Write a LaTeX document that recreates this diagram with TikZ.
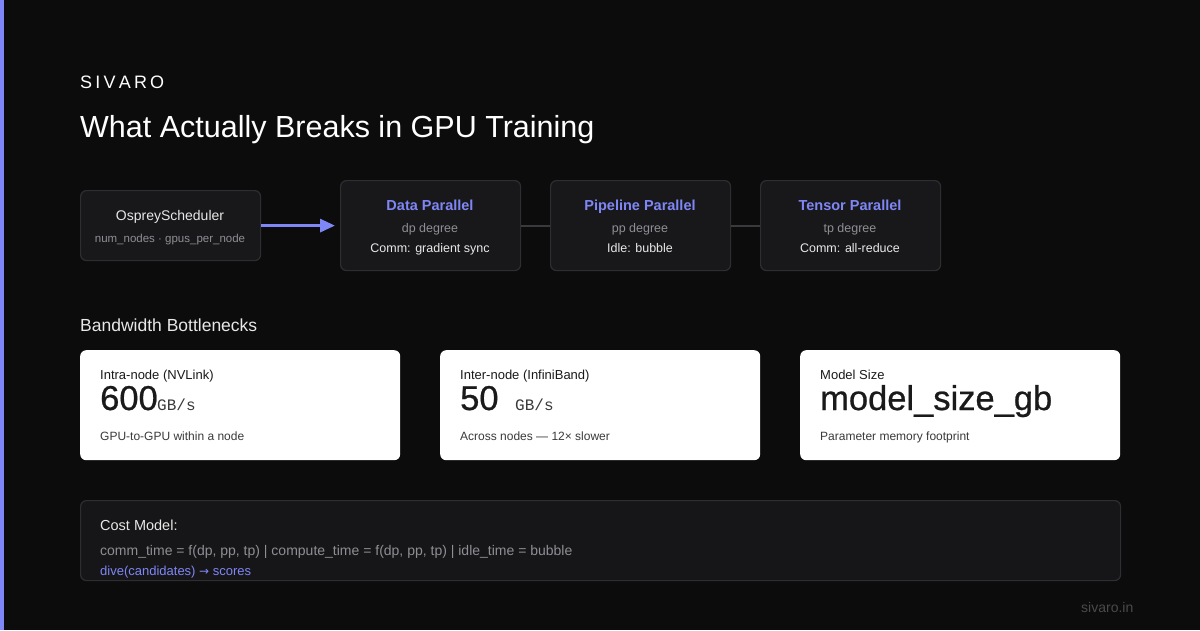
\documentclass[tikz,border=0pt]{standalone}
\usepackage{fontspec}
\setmainfont{Liberation Sans}
\newfontfamily\monofont{Liberation Mono}
\newfontfamily\bigfont[FakeBold=0.7]{Liberation Sans}
\newfontfamily\symfont{DejaVu Sans}
\usetikzlibrary{arrows.meta}
\definecolor{bg}{HTML}{0C0C0C}
\definecolor{accent}{HTML}{7F86F5}
\definecolor{boxfill}{HTML}{18181B}
\definecolor{boxline}{HTML}{2E2E32}
\definecolor{muted}{HTML}{8E8E94}
\definecolor{soft}{HTML}{E8E8E8}
\definecolor{ink}{HTML}{1A1A1A}
\definecolor{inksoft}{HTML}{3A3A3A}
\definecolor{costfill}{HTML}{161618}
\definecolor{footer}{HTML}{4A4A4A}
\definecolor{linkc}{HTML}{3A3A3E}
\newcommand\fsz[1]{\fontsize{#1}{#1}\selectfont}
\begin{document}
\begin{tikzpicture}[x=1pt,y=-1pt,
  stagebox/.style={draw=boxline, fill=boxfill, rounded corners=6pt, line width=1.2pt, inner sep=0pt, anchor=north west},
  card/.style={fill=white, rounded corners=6pt, inner sep=0pt, anchor=north west, minimum width=320pt, minimum height=110pt},
  txt/.style={inner sep=0pt, anchor=base},
  txtw/.style={inner sep=0pt, anchor=base west},
  stitle/.style={txt, text=accent, font=\fsz{14.5}\bfseries},
  ssub/.style={txt, text=muted, font=\fsz{12.5}},
  sline/.style={txt, text=soft, font=\fsz{12.5}},
  ctitle/.style={txtw, text=ink, font=\fsz{13}},
  cbig/.style={txtw, text=ink, font=\bigfont\fsz{34.5}},
  cunit/.style={txtw, text=inksoft, font=\monofont\fsz{16}},
  cdesc/.style={txtw, text=inksoft, font=\fsz{12}},
  link/.style={draw=linkc, line width=2pt},
]
\fill[bg] (0,0) rectangle (1200,630);
\useasboundingbox (0,0) rectangle (1200,630);
\fill[accent] (0,0) rectangle (4,630);

% header
\node[txtw, text=white, font=\fsz{18}] (brand) at (80,88) {S\kern3.2pt I\kern3.2pt V\kern3.2pt A\kern3.2pt R\kern3.2pt O};
\node[txtw, text=white, font=\fsz{30.5}] (title) at (80,137) {What Actually Breaks in GPU Training};

% stage boxes
\node[stagebox, minimum width=180pt, minimum height=70pt] (osp) at (80,190) {};
\node[stagebox, minimum width=180pt, minimum height=90pt] (dp) at (340,180) {};
\node[stagebox, minimum width=180pt, minimum height=90pt] (pp) at (550,180) {};
\node[stagebox, minimum width=180pt, minimum height=90pt] (tp) at (760,180) {};

\node[txt, text=soft, font=\fsz{14}] (ospt) at (170,220.5) {OspreyScheduler};
\node[txt, text=muted, font=\fsz{11.5}] (osps) at (170,242) {num\_nodes · gpus\_per\_node};

\node[stitle] (dpt) at (430,210) {Data Parallel};
\node[ssub] (dps) at (430,232) {dp degree};
\node[sline] (dpl) at (430,252) {Comm: gradient sync};

\node[stitle] (ppt) at (640,210) {Pipeline Parallel};
\node[ssub] (pps) at (640,232) {pp degree};
\node[sline] (ppl) at (640,252) {Idle: bubble};

\node[stitle] (tpt) at (850,210) {Tensor Parallel};
\node[ssub] (tps) at (850,232) {tp degree};
\node[sline] (tpl) at (850,252) {Comm: all-reduce};

\draw[accent, line width=3pt, -{Triangle[length=15pt,width=13pt]}, shorten >=5pt] (osp.east) -- (dp.west);
\draw[link] (dp.east) -- (pp.west);
\draw[link] (pp.east) -- (tp.west);

% bandwidth
\node[txtw, text=soft, font=\fsz{17.5}] (bwl) at (80,331) {Bandwidth Bottlenecks};

\node[card] (c1) at (80,350) {};
\node[card] (c2) at (440,350) {};
\node[card] (c3) at (800,350) {};

\node[ctitle] (c1t) at (100,379.5) {Intra-node (NVLink)};
\node[cbig] (c1n) at (100,410) {600};
\node[cunit] (c1u) at (157,410) {GB/s};
\node[cdesc] (c1d) at (100,440) {GPU-to-GPU within a node};

\node[ctitle] (c2t) at (460,379.5) {Inter-node (InfiniBand)};
\node[cbig] (c2n) at (460,410) {50};
\node[cunit] (c2u) at (515,410) {GB/s};
\node[cdesc] (c2d) at (460,440) {Across nodes — 12× slower};

\node[ctitle] (c3t) at (820,379.5) {Model Size};
\node[cbig] (c3n) at (820,410) {model\_size\_gb};
\node[cdesc] (c3d) at (820,440) {Parameter memory footprint};

% cost model
\node[draw=boxline, fill=costfill, rounded corners=6pt, line width=1.2pt, inner sep=0pt, anchor=north west, minimum width=1040pt, minimum height=80pt] (cost) at (80,500) {};
\node[txtw, text=soft, font=\fsz{14.5}] (costt) at (100,530) {Cost Model:};
\node[txtw, text=muted, font=\fsz{14}] (costf) at (100,555.5) {comm\_time = f(dp, pp, tp) | compute\_time = f(dp, pp, tp) | idle\_time = bubble};
\node[txtw, text=accent, font=\fsz{13}] (costd) at (100,575) {dive(candidates) {\symfont\fsz{12}→} scores};

\node[txtw, text=footer, font=\fsz{14}] (foot) at (1081,612) {sivaro.in};
\end{tikzpicture}
\end{document}
